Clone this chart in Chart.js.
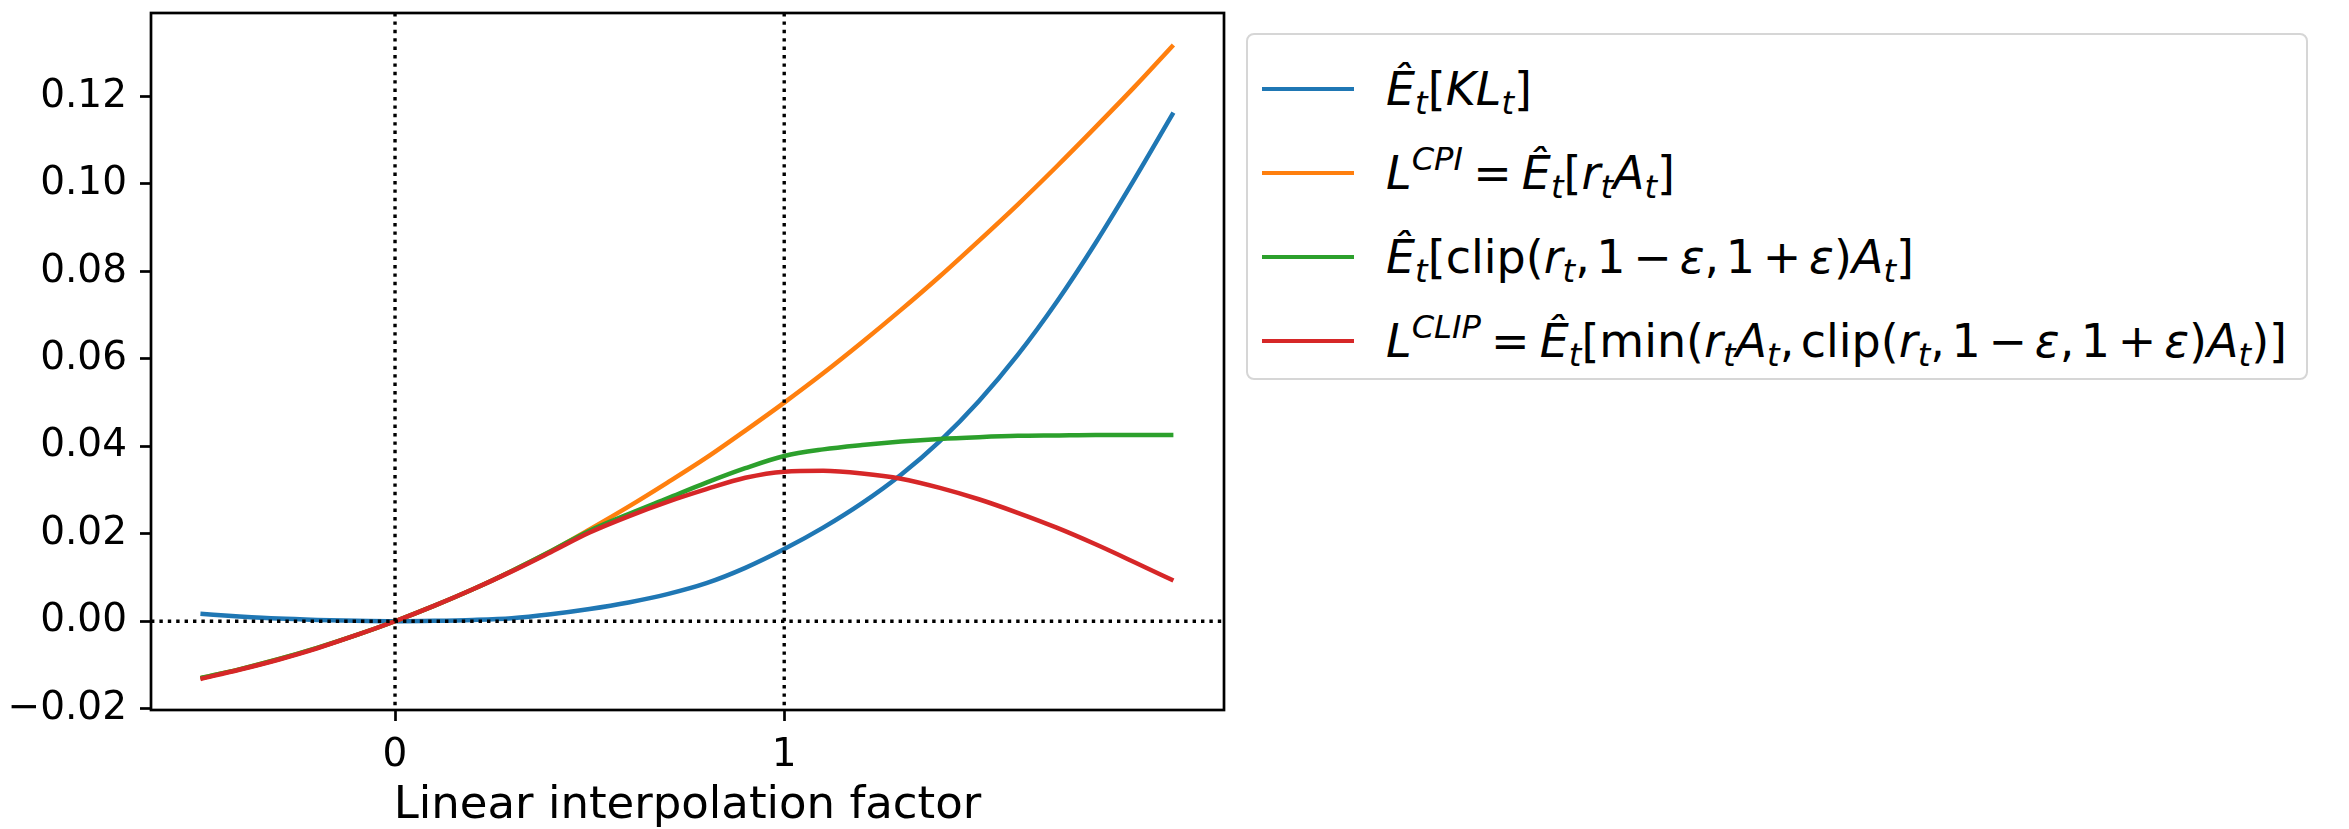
<!DOCTYPE html>
<html>
<head>
<meta charset="utf-8">
<script src="https://cdn.jsdelivr.net/npm/chart.js@4.4.1/dist/chart.umd.min.js"></script>
<style>
    html, body { margin: 0; padding: 0; background: #ffffff; }
    #wrap { position: relative; width: 2349px; height: 829px; overflow: hidden; }
    #ppo-chart { position: absolute; left: 0; top: 0; }
    #legend {
        position: absolute; left: 1246px; top: 33px; width: 1062px; height: 347px;
        box-sizing: border-box; border: 2px solid #d6d6d6; border-radius: 8px; background: #ffffff;
        font-family: "DejaVu Sans", sans-serif; font-size: 46px; color: #000000;
    }
    #legend ul { list-style: none; margin: 0; padding: 12px 0 0 0; }
    #legend li { display: flex; align-items: center; height: 84px; white-space: nowrap; }
    #legend .swatch { display: inline-block; width: 92px; height: 4.5px; margin: 0 32px 0 14px; flex: none; }
    #legend sub, #legend sup { font-size: 0.7em; line-height: 0; }
    #legend sub { vertical-align: -0.28em; }
    #legend sup { vertical-align: 0.6em; }
    #legend .rel { margin: 0 0.22em; }
    #legend .bin { margin: 0 0.17em; }
    #legend .punct { margin-right: 0.14em; }
</style>
</head>
<body>
<div id="wrap">
    <canvas id="ppo-chart" width="2349" height="829"></canvas>
    <div id="legend"><ul id="legend-list"></ul></div>
</div>
<script>
"use strict";

const xValues = [-0.5, -0.4, -0.3, -0.2, -0.1, 0.0, 0.1, 0.2, 0.3, 0.4, 0.5, 0.6, 0.7,
    0.8, 0.9, 1.0, 1.1, 1.2, 1.3, 1.4, 1.5, 1.6, 1.7, 1.8, 1.9, 2.0];
const klValues = [0.0017, 0.0011, 0.0006, 0.0003, 0.0001, 0.0000, 0.0001, 0.0003, 0.0007, 0.0016,
    0.0028, 0.0043, 0.0062, 0.0087, 0.0122, 0.0165, 0.0214, 0.0270, 0.0335, 0.0412,
    0.0503, 0.0609, 0.0730, 0.0865, 0.1011, 0.1163];
const cpiValues = [-0.0130, -0.0110, -0.0087, -0.0061, -0.0032, 0.0000, 0.0035, 0.0073, 0.0115, 0.0160,
    0.0210, 0.0262, 0.0317, 0.0374, 0.0436, 0.0500, 0.0567, 0.0638, 0.0712, 0.0789,
    0.0870, 0.0953, 0.1040, 0.1130, 0.1222, 0.1318];
const clippedValues = [-0.0130, -0.0110, -0.0087, -0.0061, -0.0032, 0.0000, 0.0035, 0.0073, 0.0115, 0.0160,
    0.0207, 0.0245, 0.0281, 0.0317, 0.0350, 0.0378, 0.0393, 0.0403, 0.0411, 0.0417,
    0.0421, 0.0424, 0.0425, 0.0426, 0.0426, 0.0426];
const clipObjectiveValues = [-0.0132, -0.0111, -0.0088, -0.0062, -0.0032, 0.0000, 0.0035, 0.0073, 0.0114, 0.0158,
    0.0203, 0.0240, 0.0273, 0.0302, 0.0328, 0.0342, 0.0344, 0.0338, 0.0326, 0.0305,
    0.0279, 0.0248, 0.0214, 0.0176, 0.0135, 0.0093];

// Assen: bereik en tickwaarden.
const xMin = -0.627;
const xMax = 2.13;
const yMin = -0.0203;
const yMax = 0.1391;
const xTickValues = [0, 1];
const yTickValues = [-0.02, 0.00, 0.02, 0.04, 0.06, 0.08, 0.10, 0.12];

// Gestippelde hulplijnen.
const guideXValues = [0, 1];
const guideYValues = [0];

const seriesLabels = ["Ê_t[KL_t]", "L^CPI = Ê_t[r_t A_t]",
    "Ê_t[clip(r_t, 1 − ε, 1 + ε) A_t]", "L^CLIP = Ê_t[min(r_t A_t, clip(r_t, 1 − ε, 1 + ε) A_t)]"];

// Wiskundige notatie voor de legenda.
const hatE = "<i>Ê</i><sub><i>t</i></sub>";
const rt = "<i>r</i><sub><i>t</i></sub>";
const At = "<i>A</i><sub><i>t</i></sub>";
const comma = "<span class=\"punct\">,</span>";
const clipTerm = `clip(${rt}${comma}1<span class="bin">−</span><i>ε</i>${comma}1<span class="bin">+</span><i>ε</i>)${At}`;
const legendMarkup = [
    `${hatE}[<i>KL</i><sub><i>t</i></sub>]`,
    `<i>L</i><sup><i>CPI</i></sup><span class="rel">=</span>${hatE}[${rt}${At}]`,
    `${hatE}[${clipTerm}]`,
    `<i>L</i><sup><i>CLIP</i></sup><span class="rel">=</span>${hatE}[min(${rt}${At}${comma}${clipTerm})]`
];
const seriesColors = ["#1f77b4", "#ff7f0e", "#2ca02c", "#d62728"];
const seriesValues = [klValues, cpiValues, clippedValues, clipObjectiveValues];

function formatTick(value) {
    return value.toFixed(2).replace("-", "\u2212");
}

// Stippellijnen bovenop de curves.
const guideLines = {
    id: "guideLines",
    afterDatasetsDraw(chart) {
        const { ctx, chartArea, scales } = chart;
        ctx.save();
        ctx.strokeStyle = "#000000";
        ctx.lineWidth = 3.4;
        ctx.setLineDash([3.4, 5]);
        guideXValues.forEach((value) => {
            const x = scales.x.getPixelForValue(value);
            ctx.beginPath();
            ctx.moveTo(x, chartArea.top);
            ctx.lineTo(x, chartArea.bottom);
            ctx.stroke();
        });
        guideYValues.forEach((value) => {
            const y = scales.y.getPixelForValue(value);
            ctx.beginPath();
            ctx.moveTo(chartArea.left, y);
            ctx.lineTo(chartArea.right, y);
            ctx.stroke();
        });
        ctx.restore();
    }
};

// Zwart kader rond het plotgebied.
const frame = {
    id: "frame",
    afterDraw(chart) {
        const { ctx, chartArea } = chart;
        ctx.save();
        ctx.strokeStyle = "#000000";
        ctx.lineWidth = 2.7;
        ctx.strokeRect(chartArea.left, chartArea.top, chartArea.right - chartArea.left, chartArea.bottom - chartArea.top);
        ctx.restore();
    }
};

// Legenda als HTML, zodat subscript en superscript echte tekst blijven.
const htmlLegend = {
    id: "htmlLegend",
    afterUpdate(chart) {
        const list = document.getElementById("legend-list");
        list.innerHTML = "";
        chart.data.datasets.forEach((dataset, index) => {
            const item = document.createElement("li");
            item.innerHTML = `<span class="swatch" style="background:${dataset.borderColor}"></span><span class="label">${legendMarkup[index]}</span>`;
            list.appendChild(item);
        });
    }
};

// Geen extra marge voor de buitenste ticklabels, het plotgebied staat vast.
function resetPadding(scale) {
    scale.paddingTop = 0;
    scale.paddingBottom = 0;
    scale.paddingLeft = 0;
    scale.paddingRight = 0;
}

const data = {
    datasets: seriesValues.map((values, index) => ({
        label: seriesLabels[index],
        data: values.map((value, i) => ({ x: xValues[i], y: value })),
        borderColor: seriesColors[index],
        backgroundColor: seriesColors[index],
        borderWidth: 4.5,
        pointRadius: 0,
        cubicInterpolationMode: "monotone",
        fill: false,
        // latere reeksen bovenop, net als in de bron
        order: seriesValues.length - index
    }))
};

const tickFont = { family: "DejaVu Sans", size: 39 };

const config = {
    type: "line",
    data: data,
    options: {
        responsive: false,
        animation: false,
        layout: {
            padding: { left: 0, top: 13, right: 1125, bottom: 0 }
        },
        scales: {
            x: {
                type: "linear",
                min: xMin,
                max: xMax,
                afterBuildTicks(scale) {
                    scale.ticks = xTickValues.map((value) => ({ value: value }));
                },
                afterFit(scale) {
                    scale.height = 119;
                    resetPadding(scale);
                },
                ticks: {
                    color: "#000000",
                    font: tickFont,
                    padding: 11,
                    maxRotation: 0,
                    callback: (value) => String(value)
                },
                grid: {
                    drawOnChartArea: false,
                    drawTicks: true,
                    tickLength: 11,
                    tickWidth: 2.7,
                    tickColor: "#000000"
                },
                border: { display: false },
                title: {
                    display: true,
                    text: "Linear interpolation factor",
                    color: "#000000",
                    font: { family: "DejaVu Sans", size: 45, lineHeight: 1.0 },
                    padding: { top: 0, bottom: 0 }
                }
            },
            y: {
                type: "linear",
                min: yMin,
                max: yMax,
                afterBuildTicks(scale) {
                    scale.ticks = yTickValues.map((value) => ({ value: value }));
                },
                afterFit(scale) {
                    scale.width = 151;
                    resetPadding(scale);
                },
                ticks: {
                    color: "#000000",
                    font: tickFont,
                    padding: 13,
                    callback: (value) => formatTick(value)
                },
                grid: {
                    drawOnChartArea: false,
                    drawTicks: true,
                    tickLength: 11,
                    tickWidth: 2.7,
                    tickColor: "#000000"
                },
                border: { display: false }
            }
        },
        plugins: {
            legend: { display: false },
            tooltip: { enabled: false }
        }
    },
    plugins: [guideLines, frame, htmlLegend]
};

new Chart(document.getElementById("ppo-chart"), config);
</script>
</body>
</html>
